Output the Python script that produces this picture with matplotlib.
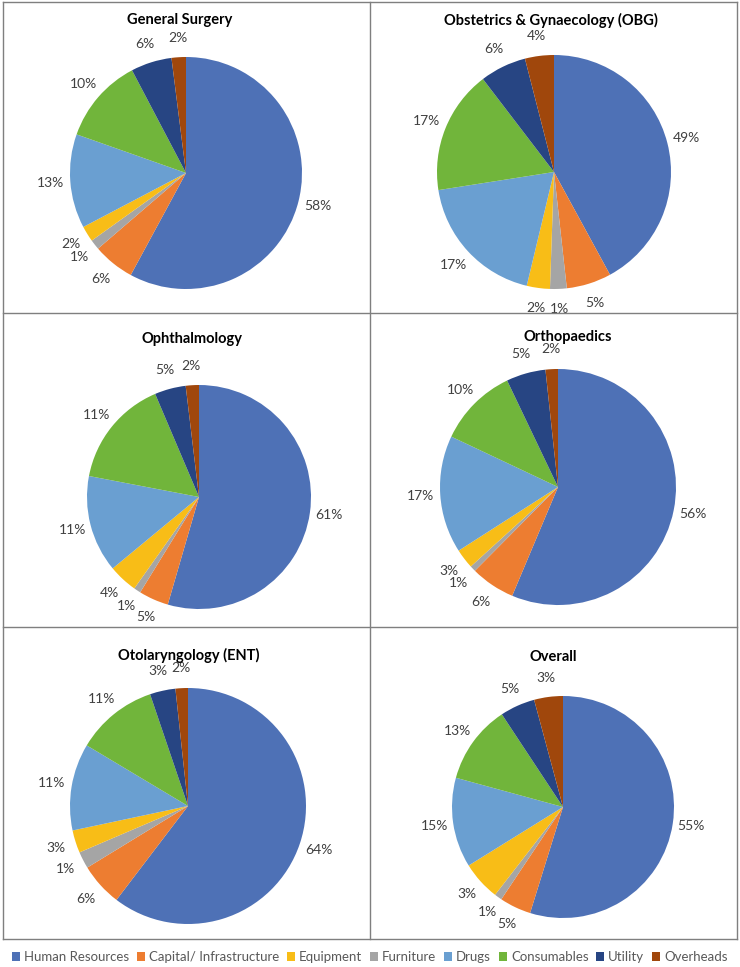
import matplotlib
matplotlib.use('Agg')
import matplotlib.pyplot as plt
from matplotlib.lines import Line2D
from matplotlib.patches import Patch

plt.rcParams['font.family'] = ['Lato', 'DejaVu Sans']

# legend order
categories = ['Human Resources', 'Capital/ Infrastructure', 'Equipment', 'Furniture',
              'Drugs', 'Consumables', 'Utility', 'Overheads']
colors = ['#4E71B6', '#ED7D31', '#F8BD17', '#A5A5A5', '#6A9FD1', '#71B53B', '#274583', '#A0470C']
# order of slices going round the pie (furniture is drawn before equipment)
slice_order = [0, 1, 3, 2, 4, 5, 6, 7]

titles = ['General Surgery', 'Obstetrics & Gynaecology (OBG)', 'Ophthalmology',
          'Orthopaedics', 'Otolaryngology (ENT)', 'Overall']

# slice shares as drawn (legend order), and the printed labels
general_surgery = [57.9, 5.8, 2.2, 1.4, 13.1, 11.9, 5.7, 2.0]
general_surgery_lbl = ['58%', '6%', '2%', '1%', '13%', '10%', '6%', '2%']
obg = [42.1, 6.2, 3.2, 2.3, 18.8, 17.1, 6.4, 4.0]
obg_lbl = ['49%', '5%', '2%', '1%', '17%', '17%', '6%', '4%']
ophthalmology = [54.5, 4.3, 4.2, 1.0, 14.0, 15.6, 4.5, 1.9]
ophthalmology_lbl = ['61%', '5%', '4%', '1%', '11%', '11%', '5%', '2%']
orthopaedics = [56.4, 6.1, 2.7, 0.8, 16.1, 10.9, 5.4, 1.7]
orthopaedics_lbl = ['56%', '6%', '3%', '1%', '17%', '10%', '5%', '2%']
ent = [60.3, 5.9, 3.1, 2.3, 11.9, 11.2, 3.5, 1.7]
ent_lbl = ['64%', '6%', '3%', '1%', '11%', '11%', '3%', '2%']
overall = [54.9, 4.6, 5.7, 1.1, 13.1, 11.5, 5.1, 4.2]
overall_lbl = ['55%', '5%', '3%', '1%', '15%', '13%', '5%', '3%']

shares = [general_surgery, obg, ophthalmology, orthopaedics, ent, overall]
labels = [general_surgery_lbl, obg_lbl, ophthalmology_lbl, orthopaedics_lbl, ent_lbl, overall_lbl]

W, H = 740, 967
fig = plt.figure(figsize=(W/100, H/100), dpi=100)

# pie centre x, centre y, radius (pixels) and title position
pies = [(186, 173, 116, 180, 20), (554, 172, 117, 551, 20),
        (199, 497, 112, 192, 339), (558, 487, 118, 568, 337),
        (188, 806, 118, 189, 655), (563, 807, 111, 553, 657)]

for k, (cx, cy, r, tx, ty) in enumerate(pies):
    ax = fig.add_axes([(cx-r)/W, 1-(cy+r)/H, 2*r/W, 2*r/H])
    vals = [shares[k][i] for i in slice_order]
    cols = [colors[i] for i in slice_order]
    lbls = [labels[k][i] for i in slice_order]
    wedges, texts = ax.pie(vals, colors=cols, labels=lbls, startangle=90, counterclock=False,
                           labeldistance=1.17, wedgeprops=dict(linewidth=0),
                           textprops=dict(fontsize=10, color='#404040'))
    for t in texts:
        t.set_ha('center')
        t.set_va('center')
    ax.set_xlim(-1, 1)
    ax.set_ylim(-1, 1)
    fig.text(tx/W, 1-ty/H, titles[k], ha='center', va='center', fontsize=10.5,
             fontweight='bold', color='#000000')

# cell borders
bx = [3, 370, 737]
by = [2, 313, 627, 939]
for y in by:
    fig.add_artist(Line2D([bx[0]/W, bx[2]/W], [1-y/H, 1-y/H], color='#7F7F7F', lw=1))
for x in bx:
    fig.add_artist(Line2D([x/W, x/W], [1-by[0]/H, 1-by[-1]/H], color='#7F7F7F', lw=1))

handles = [Patch(facecolor=c, edgecolor='none') for c in colors]
leg = fig.legend(handles, categories, loc='center', bbox_to_anchor=(0.5, 1-957/H), ncol=8,
                 frameon=False, fontsize=9.5, handlelength=0.6, handleheight=0.6,
                 handletextpad=0.3, columnspacing=0.6, borderaxespad=0)
for t in leg.get_texts():
    t.set_color('#595959')

fig.savefig('out.png', dpi=100)
